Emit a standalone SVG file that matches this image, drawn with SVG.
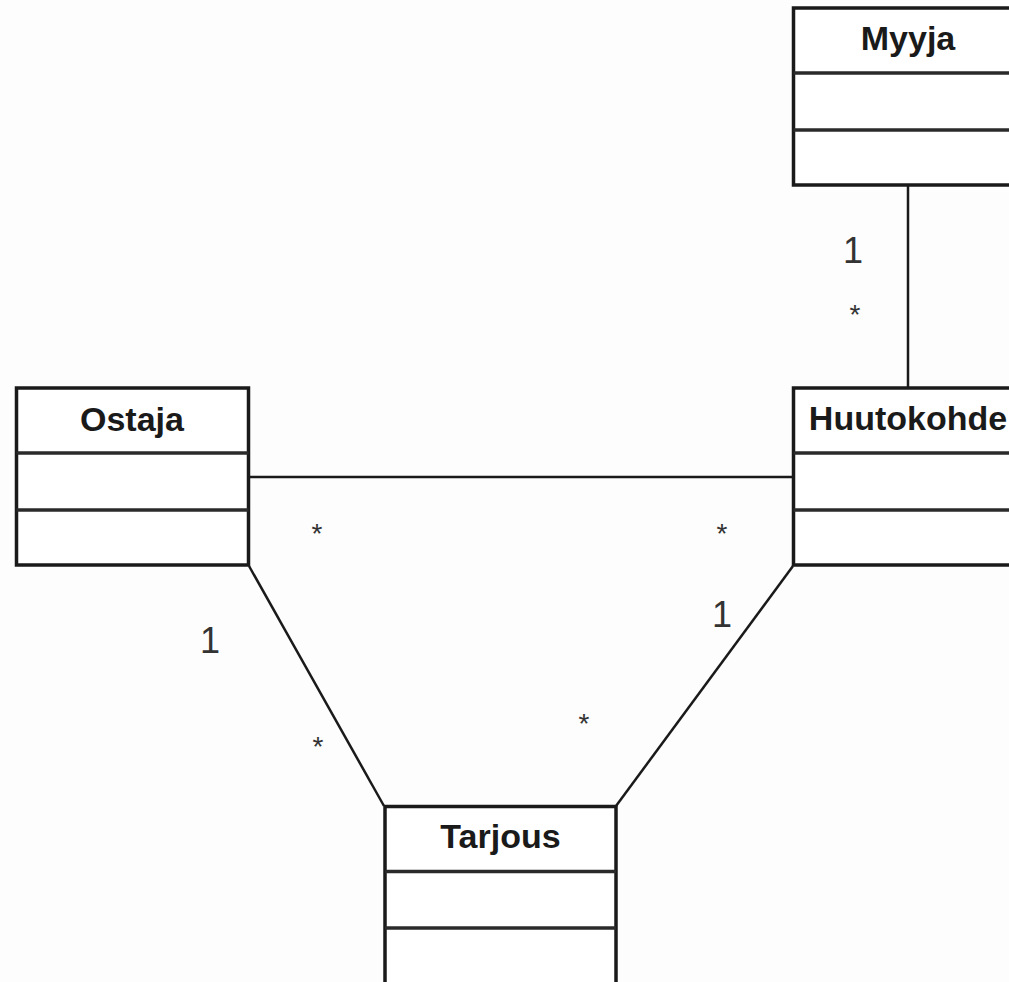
<svg xmlns="http://www.w3.org/2000/svg" width="1009" height="982" viewBox="0 0 1009 982">
  <style>
    .box { fill: #ffffff; stroke: #1a1a1a; stroke-width: 3.5; }
    .div { stroke: #2a2a2a; stroke-width: 3.5; }
    .conn { stroke: #1a1a1a; stroke-width: 2.5; fill: none; }
    .title { font-family: "Liberation Sans", Arial, sans-serif; font-weight: bold; font-size: 34px; fill: #1a1a1a; text-anchor: middle; }
    .one { font-family: "Liberation Sans", Arial, sans-serif; font-size: 36px; fill: #333; text-anchor: middle; }
    .many { font-family: "Liberation Sans", Arial, sans-serif; font-size: 28px; fill: #333; text-anchor: middle; }
  </style>
  <rect width="1009" height="982" fill="#fdfdfd"/>

  <!-- associations -->
  <g id="connectors">
    <line class="conn" x1="908" y1="185" x2="908" y2="388"/>
    <line class="conn" x1="249" y1="477" x2="793" y2="477"/>
    <line class="conn" x1="249" y1="566" x2="384" y2="806"/>
    <line class="conn" x1="793" y1="566" x2="616" y2="806"/>

    <!-- multiplicities -->
    <text class="one" x="853" y="263">1</text>
    <text class="many" x="855" y="324">*</text>
    <text class="many" x="317" y="543">*</text>
    <text class="many" x="722" y="543">*</text>
    <text class="one" x="210" y="653">1</text>
    <text class="one" x="722" y="627">1</text>
    <text class="many" x="318" y="756">*</text>
    <text class="many" x="584" y="733">*</text>
  </g>

  <g id="myyja">
    <rect class="box" x="793.5" y="8" width="230" height="177"/>
    <line class="div" x1="793.5" y1="73" x2="1023.5" y2="73"/>
    <line class="div" x1="793.5" y1="130" x2="1023.5" y2="130"/>
    <text class="title" x="908" y="50">Myyja</text>
  </g>

  <g id="ostaja">
    <rect class="box" x="16.5" y="388" width="232" height="177"/>
    <line class="div" x1="16.5" y1="453" x2="248.5" y2="453"/>
    <line class="div" x1="16.5" y1="510" x2="248.5" y2="510"/>
    <text class="title" x="132" y="431">Ostaja</text>
  </g>

  <g id="huutokohde">
    <rect class="box" x="793.5" y="388" width="230" height="177"/>
    <line class="div" x1="793.5" y1="453" x2="1023.5" y2="453"/>
    <line class="div" x1="793.5" y1="510" x2="1023.5" y2="510"/>
    <text class="title" x="908" y="430">Huutokohde</text>
  </g>

  <g id="tarjous">
    <rect class="box" x="385" y="806.5" width="231" height="190"/>
    <line class="div" x1="385" y1="871.5" x2="616" y2="871.5"/>
    <line class="div" x1="385" y1="928" x2="616" y2="928"/>
    <text class="title" x="500.5" y="848">Tarjous</text>
  </g>
</svg>
